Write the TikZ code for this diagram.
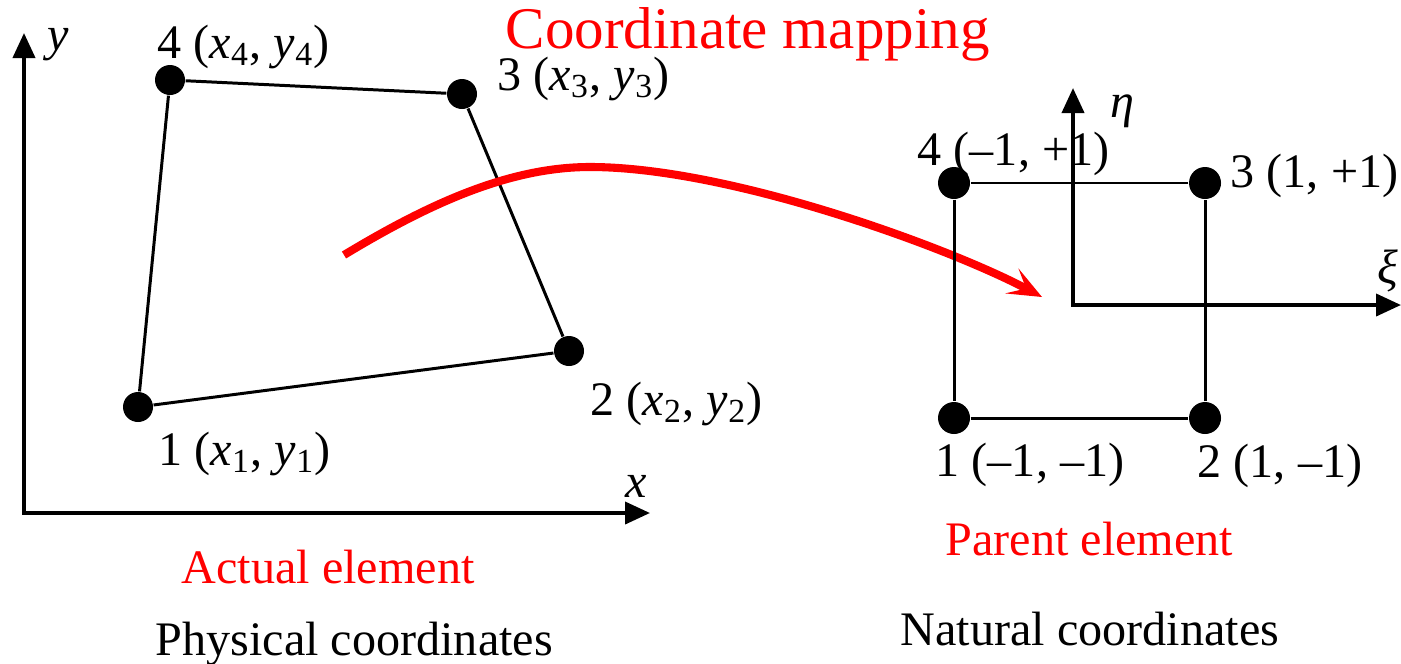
\documentclass[tikz,border=0pt]{standalone}
\usepackage{fontspec}
\setmainfont{Liberation Serif}
\usetikzlibrary{arrows.meta}

\begin{document}
\begin{tikzpicture}[
    every node/.style={font=\fontsize{13.7}{16}\selectfont, inner sep=0pt},
    lbl/.style={anchor=base west},
    dot/.style={circle, fill=black, minimum size=0.30cm, inner sep=0pt},
    bigdot/.style={dot, minimum size=0.32cm},
    edge/.style={line width=0.85pt},
    axis/.style={{Triangle[length=0.25cm, width=0.22cm]}-{Triangle[length=0.25cm, width=0.22cm]}, line width=1.1pt},
    mapping/.style={-{Stealth[length=0.34cm, width=0.28cm, inset=0.16cm]}, red, line width=2.3pt}
]
    \useasboundingbox (0,0) rectangle (14.01,6.63);

    % ---- Physical axes ----
    \coordinate (o1) at (0.24,1.50);
    \coordinate (xend) at (6.50,1.50);
    \coordinate (yend) at (0.24,6.30);
    \draw[axis] (yend) -- (o1) -- (xend);
    \node[lbl] (xlab) at (6.25,1.66) {\textit{x}};
    \node[lbl] (ylab) at (0.47,6.13) {\textit{y}};

    % ---- Actual element ----
    \node[dot] (a1) at (1.38,2.56) {};
    \node[dot] (a2) at (5.69,3.12) {};
    \node[dot] (a3) at (4.62,5.69) {};
    \node[dot] (a4) at (1.70,5.83) {};
    \draw[edge] (a1) -- (a2) -- (a3) -- (a4) -- (a1);
    \node[lbl] (a1lab) at (1.58,1.98) {1 (\textit{x}\textsubscript{1}, \textit{y}\textsubscript{1})};
    \node[lbl] (a2lab) at (5.90,2.48) {2 (\textit{x}\textsubscript{2}, \textit{y}\textsubscript{2})};
    \node[lbl] (a3lab) at (4.97,5.73) {3 (\textit{x}\textsubscript{3}, \textit{y}\textsubscript{3})};
    \node[lbl] (a4lab) at (1.57,6.05) {4 (\textit{x}\textsubscript{4}, \textit{y}\textsubscript{4})};

    \node[lbl, red] (actual) at (1.81,0.80) {Actual element};
    \node[lbl] (phys) at (1.55,0.08) {Physical coordinates};

    % ---- Mapping ----
    \node[lbl, red, font=\fontsize{16.8}{20}\selectfont] (maptitle) at (5.05,6.15) {Coordinate mapping};
    \coordinate (mstart) at (3.44,4.08);
    \coordinate (mend) at (10.42,3.66);
    \draw[mapping] (mstart) .. controls (4.3,4.6) and (5.1,4.96) .. (5.9,4.96)
        .. controls (7.3,4.96) and (9.5,4.15) .. (mend);

    % ---- Parent element ----
    \node[bigdot] (n1) at (9.54,2.45) {};
    \node[bigdot] (n2) at (12.05,2.45) {};
    \node[bigdot] (n3) at (12.05,4.80) {};
    \node[bigdot] (n4) at (9.54,4.80) {};
    \draw[edge] (n1) -- (n2) -- (n3) -- (n4) -- (n1);
    \node[lbl] (n1lab) at (9.35,1.87) {1 (–1, –1)};
    \node[lbl] (n2lab) at (11.97,1.86) {2 (1, –1)};
    \node[lbl] (n3lab) at (12.30,4.76) {3 (1, +1)};
    \node[lbl] (n4lab) at (9.17,4.98) {4 (–1, +1)};

    % ---- Natural axes ----
    \coordinate (o2) at (10.73,3.58);
    \coordinate (xiend) at (14.01,3.58);
    \coordinate (etaend) at (10.73,5.75);
    \draw[axis] (etaend) -- (o2) -- (xiend);
    \node[lbl] (etalab) at (11.10,5.46) {\textit{η}};
    \node[lbl] (xilab) at (13.77,3.80) {\textit{ξ}};

    \node[lbl, red] (parent) at (9.45,1.08) {Parent element};
    \node[lbl] (natural) at (9.00,0.18) {Natural coordinates};

\end{tikzpicture}
\end{document}
